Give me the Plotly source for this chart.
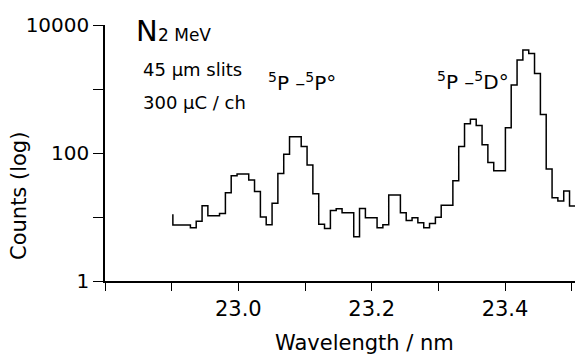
import plotly.graph_objects as go

# Channel left-edge wavelengths (nm)
wavelength = [22.9018, 22.9106, 22.9193, 22.9281, 22.9368, 22.9456, 22.9543, 22.9631,
              22.9718, 22.9806, 22.9893, 22.9981, 23.0068, 23.0156, 23.0243, 23.0331,
              23.0418, 23.0506, 23.0593, 23.0681, 23.0768, 23.0856, 23.0943, 23.1031,
              23.1118, 23.1206, 23.1293, 23.1381, 23.1468, 23.1556, 23.1643, 23.1731,
              23.1818, 23.1906, 23.1993, 23.2081, 23.2168, 23.2256, 23.2343, 23.2431,
              23.2518, 23.2606, 23.2693, 23.2781, 23.2868, 23.2956, 23.3043, 23.3131,
              23.3218, 23.3306, 23.3393, 23.3481, 23.3568, 23.3656, 23.3743, 23.3831,
              23.3918, 23.4006, 23.4093, 23.4181, 23.4268, 23.4356, 23.4443, 23.4531,
              23.4618, 23.4706, 23.4793, 23.4881, 23.4968]
last_edge = 23.5056
start_count = 11  # level of the partial channel where the record begins

counts = [7.5, 7.5, 7.5, 6.8, 8.6, 15, 10.5, 10.5,
          11.3, 24, 44, 47, 47, 38, 25, 10,
          7.6, 16.4, 48, 96, 180, 180, 126, 65,
          23, 7.7, 6.6, 12.6, 13.4, 11.6, 11.6, 4.9,
          13.6, 9.7, 9.7, 6.8, 7.6, 22, 22, 11.7,
          8.8, 9.7, 8.1, 6.8, 7.9, 9.9, 15.3, 15.3,
          37, 126, 286, 338, 269, 135, 71, 53,
          53, 247, 1156, 2830, 4060, 3600, 1750, 400,
          56, 20, 17.8, 25.5, 14.8]

x_ticks = [22.8, 22.9, 23.0, 23.1, 23.2, 23.3, 23.4, 23.5]
x_ticklabels = ["", "", "23.0", "", "23.2", "", "23.4", ""]
y_ticks = [1, 10, 100, 1000, 10000]
y_ticklabels = ["1", "", "100", "", "10000"]

FONT = "DejaVu Sans"

fig = go.Figure()
fig.add_trace(go.Scatter(
    x=[wavelength[0]] + wavelength + [last_edge],
    y=[start_count] + counts + [counts[-1]],
    mode="lines",
    line=dict(shape="hv", color="black", width=1.5),
    hoverinfo="skip",
    showlegend=False,
))

W, H = 575, 354
ml, mr, mt, mb = 105, 0, 25, 73
pw, ph = W - ml - mr, H - mt - mb

def px(xp):
    return (xp - ml) / pw

def py(yp):
    return (H - mb - yp) / ph

def txt(text, x, y, size, xanchor="left", angle=0):
    return dict(x=px(x), y=py(y), text=text, xref="paper", yref="paper",
                xanchor=xanchor, yanchor="middle", showarrow=False, textangle=angle,
                font=dict(size=size, family=FONT, color="black"))

annotations = [
    txt("N", 134, 31, 29),
    txt("2 MeV", 156, 35, 17),
    txt("45 µm slits", 141, 69, 18),
    txt("300 µC / ch", 141, 102, 18),
    txt("<sup>5</sup>P –<sup>5</sup>P°", 266, 82, 20),
    txt("<sup>5</sup>P –<sup>5</sup>D°", 435, 81, 20),
    txt("Wavelength / nm", 364, 343, 21, xanchor="center"),
    txt("Counts (log)", 19, 196, 21, xanchor="center", angle=-90),
]

fig.update_layout(
    width=W, height=H,
    margin=dict(l=ml, r=mr, t=mt, b=mb),
    paper_bgcolor="white", plot_bgcolor="white",
    font=dict(family=FONT, color="black", size=20),
    annotations=annotations,
    xaxis=dict(
        range=[22.8, 23.505],
        tickvals=x_ticks, ticktext=x_ticklabels,
        ticks="outside", ticklen=8, tickwidth=1, tickcolor="black",
        showline=True, linecolor="black", linewidth=1.5,
        showgrid=False, zeroline=False,
        tickfont=dict(size=21, family=FONT),
    ),
    yaxis=dict(
        type="log", range=[0, 4],
        tickvals=y_ticks, ticktext=y_ticklabels,
        ticks="outside", ticklen=10, tickwidth=1, tickcolor="black",
        showline=True, linecolor="black", linewidth=1.5,
        showgrid=False, zeroline=False,
        tickfont=dict(size=20, family=FONT),
    ),
)

fig.write_html("out.html")
